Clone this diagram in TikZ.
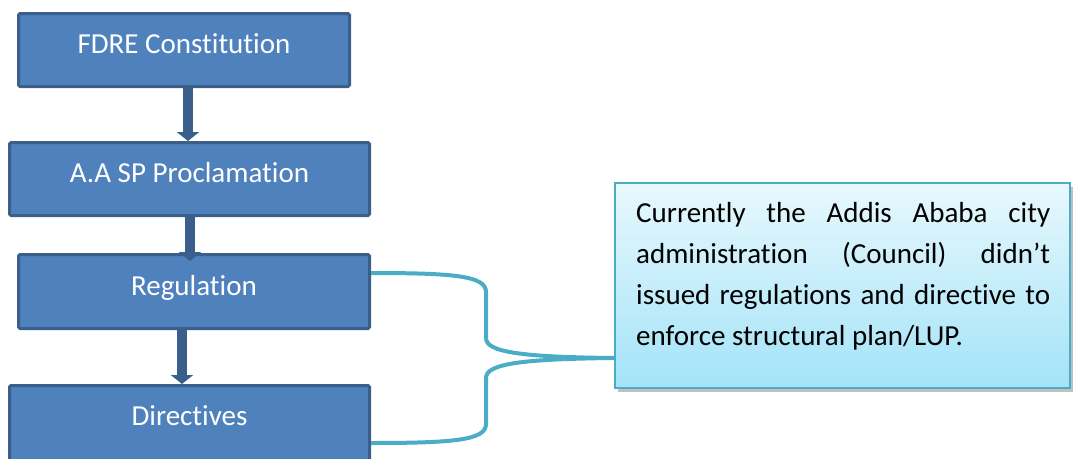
\documentclass[tikz,border=0pt]{standalone}
\usepackage{fontspec}
\setmainfont[Ligatures={NoCommon}]{Carlito}
\usetikzlibrary{arrows.meta,shadows}
\definecolor{boxfill}{HTML}{4F81BD}
\definecolor{boxline}{HTML}{3A5F8B}
\definecolor{braceteal}{HTML}{4BACC6}
\definecolor{notetop}{HTML}{E8F8FD}
\definecolor{notebot}{HTML}{A3E3F8}
\begin{document}
\begin{tikzpicture}[x=1pt,y=-1pt,
  flowbox/.style={draw=boxline, line width=3pt, fill=boxfill, rounded corners=1.5pt,
    text=white, font=\fontsize{29}{34}\selectfont, text height=20pt, text depth=13pt, inner sep=0pt},
  flowarrow/.style={draw=boxline, line width=10pt, -{Triangle[width=22pt,length=9pt]}},
  bracepath/.style={draw=braceteal, line width=4pt},
  notebox/.style={draw=braceteal, line width=1.5pt, inner sep=0pt, top color=notetop, bottom color=notebot,
    drop shadow={shadow xshift=3pt, shadow yshift=-4pt, opacity=0.45, fill=black!55}}]
\useasboundingbox (0,0) rectangle (1074,458);
\begin{scope}
\clip (0,0) rectangle (1074,458);
% boxes
\node[flowbox, minimum width=331pt, minimum height=73pt] (fdre) at (184,50) {FDRE Constitution};
\node[flowbox, minimum width=360pt, minimum height=73pt] (aasp) at (189.5,179) {A.A SP Proclamation};
\node[flowbox, minimum width=351pt, minimum height=74pt] (reg) at (194,291.5) {Regulation};
\node[flowbox, minimum width=360pt, minimum height=84pt, text depth=24pt] (dir) at (189.5,427.5) {Directives};
% arrows
\draw[flowarrow] (fdre.south -| 188,0) -- (aasp.north -| 188,0);
\draw[flowarrow, shorten >=-8pt] (aasp.south -| 190,0) -- (reg.north -| 190,0);
\draw[flowarrow] (reg.south -| 182,0) -- (dir.north -| 182,0);
% note
\node[notebox, minimum width=455pt, minimum height=205pt] (note) at (842.5,285.5) {};
\node[anchor=north west, text width=414pt, align=justify, inner sep=0pt,
  font=\fontsize{29}{41}\selectfont, text=black] (notetext) at (636,202)
  {Currently the Addis Ababa city\linebreak administration (Council) didn’t\linebreak issued regulations and directive to\linebreak enforce structural plan/LUP.};
% brace connector
\coordinate (join) at (note.west |- 0,358);
\draw[bracepath] (reg.east |- 0,273) .. controls (455,273) and (486,276) .. (486,292)
  -- (486,338) .. controls (486,352) and (520,357) .. (join);
\draw[bracepath] (dir.east |- 0,443) .. controls (455,443) and (486,440) .. (486,424)
  -- (486,378) .. controls (486,364) and (520,359) .. (join);
\end{scope}
\end{tikzpicture}
\end{document}
